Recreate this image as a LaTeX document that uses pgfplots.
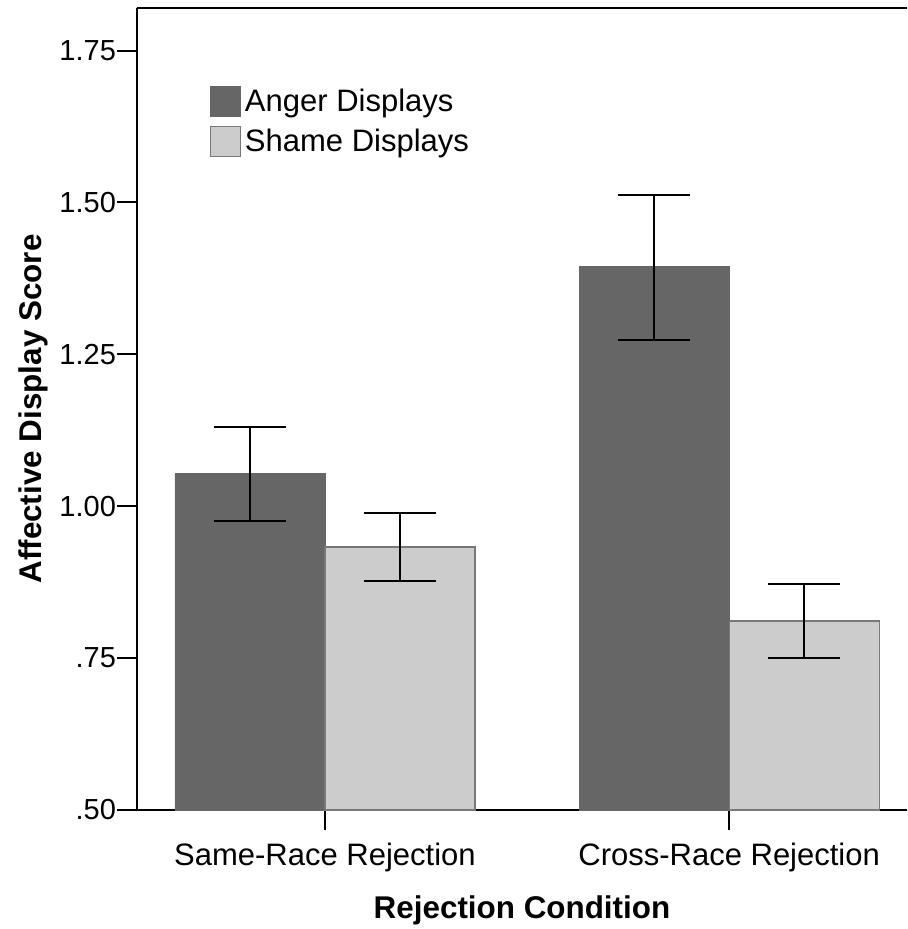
\documentclass[border=0pt]{standalone}
\usepackage{pgfplots}
\pgfplotsset{compat=1.18}
\usepackage{fontspec}
\setmainfont{Liberation Sans}
\definecolor{anger}{RGB}{102,102,102}
\definecolor{shame}{RGB}{204,204,204}
\definecolor{shameedge}{RGB}{120,120,120}
\begin{document}
\begin{tikzpicture}
\begin{axis}[
  scale only axis,
  width=385pt, height=401pt,
  xmin=-0.465, xmax=1.44,
  ymin=0.5, ymax=1.82,
  axis x line*=box, axis y line*=left,
  axis line style={line width=1pt, black},
  xtick={0,1}, xticklabels={Same-Race Rejection, Cross-Race Rejection},
  ytick={0.5,0.75,1,1.25,1.5,1.75},
  yticklabels={.50,.75,1.00,1.25,1.50,1.75},
  xtick pos=bottom, ytick pos=left,
  tick align=outside,
  major tick length=10pt,
  every tick/.style={black, line width=1pt},
  /pgf/number format/assume math mode=true,
  xticklabel style={font=\fontsize{15.5}{18}\selectfont, yshift=-3pt},
  yticklabel style={font=\fontsize{14.5}{17}\selectfont, xshift=3pt},
  xlabel={\textbf{Rejection Condition}},
  ylabel={\textbf{Affective Display Score}},
  label style={font=\fontsize{15.7}{18}\selectfont},
  ylabel style={yshift=-1pt},
  xlabel style={yshift=-5pt},
  ybar,
  bar width=75pt,
  legend style={at={(0.094,0.905)}, anchor=north west, draw=none, fill=none,
    font=\fontsize{15.5}{18}\selectfont, row sep=3.5pt, inner sep=0pt,
    nodes={inner xsep=2pt}},
  legend cell align=left,
  legend image code/.code={\draw[#1, line width=0.6pt] (0pt,-7.5pt) rectangle (15pt,7.5pt);},
  clip=true,
]
\addplot[fill=anger, draw=anger, bar shift=-37.5pt,
  error bars/.cd, y dir=both, y explicit,
  error bar style={line width=1pt, black},
  error mark options={rotate=90, mark size=18pt, line width=1pt, black}]
  coordinates {
    (0,1.054) += (0,0.076) -= (0,0.079)
    (1,1.395) += (0,0.118) -= (0,0.122)
  };
\addlegendentry{Anger Displays}
\addplot[fill=shame, draw=shameedge, line width=0.6pt, bar shift=37.5pt,
  error bars/.cd, y dir=both, y explicit,
  error bar style={line width=1pt, black},
  error mark options={rotate=90, mark size=18pt, line width=1pt, black}]
  coordinates {
    (0,0.933) += (0,0.055) -= (0,0.056)
    (1,0.811) += (0,0.061) -= (0,0.061)
  };
\addlegendentry{Shame Displays}
\end{axis}
\pgfresetboundingbox
\path[use as bounding box] ([shift={(-68.5pt,-59.5pt)}]current axis.south west) rectangle ([shift={(0pt,4pt)}]current axis.north east);
\end{tikzpicture}
\end{document}
